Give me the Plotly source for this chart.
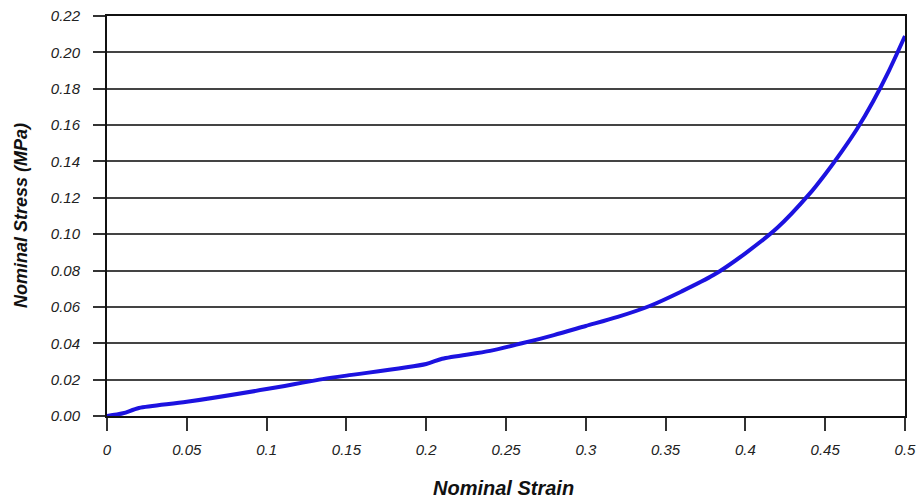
import plotly.graph_objects as go

strain = [0, 0.01, 0.02, 0.05, 0.1, 0.133, 0.15, 0.2, 0.21, 0.24, 0.26, 0.28, 0.3, 0.32, 0.34, 0.36, 0.38, 0.4, 0.42, 0.44, 0.45, 0.46, 0.47, 0.48, 0.49, 0.5]
stress = [0, 0.0015, 0.0044, 0.0078, 0.0148, 0.02, 0.0222, 0.0286, 0.0315, 0.0358, 0.0400, 0.0445, 0.0495, 0.0545, 0.0605, 0.0685, 0.0775, 0.0895, 0.1035, 0.122, 0.133, 0.145, 0.158, 0.173, 0.190, 0.209]

x_ticks = [0, 0.05, 0.1, 0.15, 0.2, 0.25, 0.3, 0.35, 0.4, 0.45, 0.5]
x_labels = ["0", "0.05", "0.1", "0.15", "0.2", "0.25", "0.3", "0.35", "0.4", "0.45", "0.5"]
y_ticks = [0, 0.02, 0.04, 0.06, 0.08, 0.10, 0.12, 0.14, 0.16, 0.18, 0.20, 0.22]
y_labels = ["%.2f" % v for v in y_ticks]

x_title = "Nominal Strain"
y_title = "Nominal Stress (MPa)"

fig = go.Figure()
fig.add_trace(go.Scatter(x=strain, y=stress, mode="lines",
                         line=dict(color="#1c12e0", width=4, shape="spline", smoothing=0.8),
                         showlegend=False))

tickfont = dict(family="Liberation Sans, Arial, sans-serif", size=15, color="#222")
fig.update_layout(
    width=921, height=503,
    margin=dict(l=107, r=16, t=16, b=87, autoexpand=False),
    paper_bgcolor="white", plot_bgcolor="white",
    font=dict(family="Liberation Sans, Arial, sans-serif"),
    xaxis=dict(range=[0, 0.5], tickvals=x_ticks, ticktext=[f"<i>{t}</i>" for t in x_labels],
               showgrid=False, zeroline=False, showline=True, linecolor="#111", linewidth=2,
               mirror=True, ticks="outside", ticklen=13, tickwidth=2, tickcolor="#333",
               tickfont=tickfont, automargin=False, ticklabelstandoff=6),
    yaxis=dict(range=[0, 0.22], tickvals=y_ticks, ticktext=[f"<i>{t}</i>" for t in y_labels],
               showgrid=True, gridcolor="#444", gridwidth=1.5, zeroline=False,
               showline=True, linecolor="#111", linewidth=2, mirror=True,
               ticks="outside", ticklen=12, tickwidth=2, tickcolor="#333",
               tickfont=tickfont, automargin=False, ticklabelstandoff=10),
    annotations=[
        dict(text=f"<b><i>{x_title}</i></b>", xref="paper", yref="paper", x=0.497, y=0,
             yshift=-72, showarrow=False, font=dict(size=20, color="#111"),
             xanchor="center", yanchor="middle"),
        dict(text=f"<b><i>{y_title}</i></b>", xref="paper", yref="paper", x=0, y=0.5,
             xshift=-86, textangle=-90, showarrow=False, font=dict(size=18, color="#111"),
             xanchor="center", yanchor="middle"),
    ],
)

fig.write_html("out.html", config={"displayModeBar": False},
               post_script="document.body.style.margin='0';document.body.style.overflow='hidden';")
